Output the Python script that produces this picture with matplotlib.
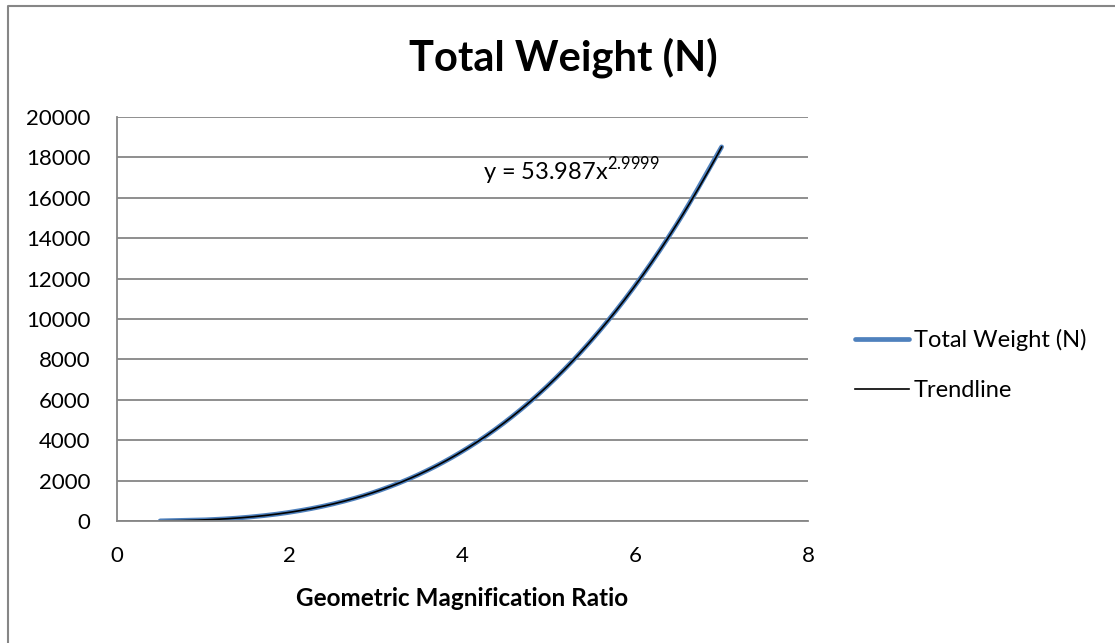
import numpy as np
import matplotlib.pyplot as plt
from matplotlib.lines import Line2D

# magnification ratio vs total weight
ratio = [0.5, 1.0, 1.5, 2.0, 2.5, 3.0, 3.5, 4.0, 4.5, 5.0, 5.5, 6.0, 6.5, 7.0]
weight = [7, 54, 182, 432, 844, 1458, 2315, 3456, 4921, 6750, 8984, 11664, 14830, 18522]

# power trendline coefficients
coef_a = 53.987
coef_b = 2.9999


def smooth(x, y, n=20):
    # Catmull-Rom curve through the points (Excel style smoothed line)
    x = np.asarray(x, float)
    y = np.asarray(y, float)
    px = np.concatenate([[2 * x[0] - x[1]], x, [2 * x[-1] - x[-2]]])
    py = np.concatenate([[2 * y[0] - y[1]], y, [2 * y[-1] - y[-2]]])
    t = np.linspace(0, 1, n, endpoint=False)[:, None]
    out_x, out_y = [], []
    for i in range(1, len(px) - 2):
        for p, out in ((px, out_x), (py, out_y)):
            p0, p1, p2, p3 = p[i - 1], p[i], p[i + 1], p[i + 2]
            seg = 0.5 * (2 * p1 + (p2 - p0) * t + (2 * p0 - 5 * p1 + 4 * p2 - p3) * t ** 2
                         + (3 * p1 - p0 - 3 * p2 + p3) * t ** 3)
            out.extend(seg.ravel())
    out_x.append(x[-1])
    out_y.append(y[-1])
    return out_x, out_y


plt.rcParams['font.family'] = ['Lato', 'DejaVu Sans']

fig = plt.figure(figsize=(11.15, 6.43), dpi=100)
# chart frame: only left and top edges fall inside the image
bx = 7.5 / 1115
by = 1 - 5.5 / 643
fig.add_artist(Line2D([bx, bx, 1.0], [0.0, by, by], transform=fig.transFigure,
                      color='#868686', linewidth=1.5))

ax = fig.add_axes([117 / 1115, 1 - 521 / 643, (808 - 117) / 1115, (521 - 117) / 643])

sx, sy = smooth(ratio, weight)
ax.plot(sx, sy, color='#4F81BD', linewidth=3.4, solid_capstyle='round',
        label='Total Weight (N)')
xs = np.linspace(ratio[0], ratio[-1], 300)
ax.plot(xs, coef_a * xs ** coef_b, color='black', linewidth=1.2, label='Trendline')

ax.set_xlim(0, 8)
ax.set_ylim(0, 20000)
ax.set_xticks(range(0, 9, 2))
ax.set_yticks(range(0, 20001, 2000))
ax.grid(axis='y', color='#868686', linewidth=1.3)
ax.set_axisbelow(True)
for s in ['top', 'right']:
    ax.spines[s].set_visible(False)
for s in ['left', 'bottom']:
    ax.spines[s].set_color('#868686')
    ax.spines[s].set_linewidth(1.3)
ax.tick_params(length=0, labelsize=16)
ax.tick_params(axis='y', pad=19)
ax.tick_params(axis='x', pad=18)

ax.set_xlabel('Geometric Magnification Ratio', fontsize=17.5, fontweight='bold', labelpad=15)
fig.text(563 / 1115, 1 - 58 / 643, 'Total Weight (N)', fontsize=30, fontweight='bold',
         ha='center', va='center')

ax.text(4.24, 16900, r'y = 53.987x$^{\mathregular{2.9999}}$', fontsize=17)

ax.legend(loc='center left', bbox_to_anchor=(855 / 1115, 1 - 365 / 643),
          bbox_transform=fig.transFigure, frameon=False, fontsize=17, borderpad=0,
          borderaxespad=0, handlelength=2.3, handletextpad=0.2, labelspacing=1.25)

fig.savefig('out.png', dpi=100)
